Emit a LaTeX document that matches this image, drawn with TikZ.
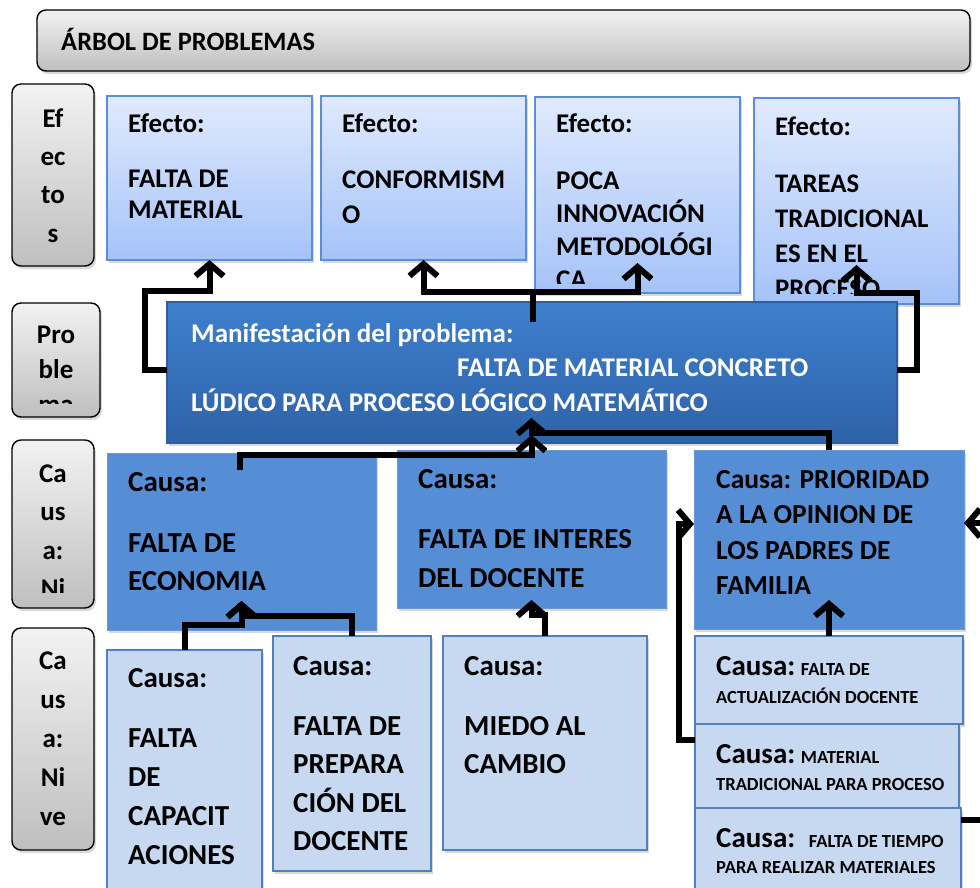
\documentclass[tikz,border=0pt]{standalone}
\usepackage{fontspec}
\setmainfont{Carlito}
\usetikzlibrary{arrows.meta,shadows}
\definecolor{grisclaro}{HTML}{F2F2F2}
\definecolor{grisoscuro}{HTML}{BFBFBF}
\definecolor{efarriba}{HTML}{E0EAFD}
\definecolor{efabajo}{HTML}{A5C3F9}
\definecolor{efborde}{HTML}{5A8ED6}
\definecolor{probarriba}{HTML}{3E7FCD}
\definecolor{probabajo}{HTML}{2E63A8}
\definecolor{probborde}{HTML}{2F5E9E}
\definecolor{causa}{HTML}{558ED5}
\definecolor{subcausa}{HTML}{C6D9F1}
\definecolor{causaborde}{HTML}{4F81BD}
\newcommand{\letra}[2]{\fontsize{#1}{#2}\selectfont\bfseries}

\begin{document}
\begin{tikzpicture}[x=1pt,y=-1pt,
    caja/.style={anchor=north west,inner sep=0pt,outer sep=0pt},
    sombra/.style={drop shadow={shadow xshift=2pt,shadow yshift=-3pt,opacity=0.3}},
    rotulo/.style={caja,sombra,draw=black,line width=1.4pt,rounded corners=9pt,top color=grisclaro,bottom color=grisoscuro},
    efecto/.style={caja,sombra,draw=efborde,line width=1.2pt,top color=efarriba,bottom color=efabajo},
    problema/.style={caja,sombra,draw=probborde,line width=2pt,top color=probarriba,bottom color=probabajo},
    causa/.style={caja,sombra,draw=causa!90!white,line width=1pt,fill=causa},
    subcausa/.style={caja,sombra,draw=causaborde,line width=1.2pt,fill=subcausa},
    txt/.style={anchor=base west,inner sep=0pt,align=left},
    txtc/.style={anchor=base,inner sep=0pt,align=center},
    flecha/.style={line width=6pt,-{Straight Barb[length=12pt,width=28pt]}}]
    \clip (0,0) rectangle (980,887);

    % cajas
    \node[rotulo,minimum width=933,minimum height=61] (titulo) at (37,10) {};
    \node[rotulo,minimum width=82,minimum height=182] (lab1) at (12,84) {};
    \node[rotulo,minimum width=88,minimum height=114] (lab2) at (12,303) {};
    \node[rotulo,minimum width=82,minimum height=168] (lab3) at (12,440) {};
    \node[rotulo,minimum width=82,minimum height=222] (lab4) at (12,628) {};

    \node[efecto,minimum width=205,minimum height=164] (ef1) at (107,96) {};
    \node[efecto,minimum width=205,minimum height=164] (ef2) at (321,96) {};
    \node[efecto,minimum width=205,minimum height=196] (ef3) at (535,97) {};
    \node[efecto,minimum width=205,minimum height=206] (ef4) at (754,98) {};

    \node[problema,minimum width=730,minimum height=141] (prob) at (167,302) {};

    \node[causa,minimum width=269,minimum height=177] (c1) at (107,453) {};
    \node[causa,minimum width=269,minimum height=158] (c2) at (397,450) {};
    \node[causa,minimum width=270,minimum height=179] (c3) at (694,450) {};

    \node[subcausa,minimum width=155,minimum height=260] (d1) at (107,650) {};
    \node[subcausa,minimum width=158,minimum height=235] (d2) at (273,636) {};
    \node[subcausa,minimum width=204,minimum height=214] (d3) at (443,636) {};
    \node[subcausa,minimum width=268,minimum height=88] (f1) at (695,636) {};
    \node[subcausa,minimum width=264,minimum height=84] (f2) at (695,724) {};
    \node[subcausa,minimum width=266,minimum height=100] (f3) at (695,808) {};

    % textos (coordenada = linea base de la ultima linea)
    \node[txt,font=\letra{26.5}{30}] (ttitulo) at (61,50) {ÁRBOL DE PROBLEMAS};
    \node[txtc,font=\letra{27}{38.3}] (tl1) at (lab1.north |- 0,242) {Ef\\ec\\to\\s};
    \begin{scope}
        \clip (lab2.north west) rectangle ([yshift=14pt]lab2.south east);
        \node[txtc,font=\letra{27}{35}] (tl2) at (lab2.north |- 0,413) {Pro\\ble\\ma};
    \end{scope}
    \begin{scope}
        \clip (lab3.north west) rectangle ([yshift=16pt]lab3.south east);
        \node[txtc,font=\letra{27}{38.5}] (tl3) at (lab3.north |- 0,597.5) {Ca\\us\\a:\\Ni};
    \end{scope}
    \node[txtc,font=\letra{27}{38.8}] (tl4) at (lab4.north |- 0,825) {Ca\\us\\a:\\Ni\\ve};

    \node[txt,font=\letra{27}{31.6}] (te1) at (128,218.6) {Efecto:\\[23.4pt]FALTA DE\\MATERIAL};
    \node[txt,font=\letra{27}{35}] (te2) at (342,223) {Efecto:\\[21pt]CONFORMISM\\O};
    \begin{scope}
        \clip (ef3.north west) rectangle ([yshift=10pt]ef3.south east);
        \node[txt,font=\letra{27}{32.7}] (te3) at (556,288) {Efecto:\\[24.3pt]POCA\\INNOVACIÓN\\METODOLÓGI\\CA};
    \end{scope}
    \begin{scope}
        \clip (ef4.north west) rectangle ([yshift=11pt]ef4.south east);
        \node[txt,font=\letra{26.8}{35}] (te4) at (775,297) {Efecto:\\[22pt]TAREAS\\TRADICIONAL\\ES EN EL\\PROCESO};
    \end{scope}

    \node[txt,font=\letra{27}{34.5},text=white] (tp) at (191,411) {Manifestación del problema:\\\hspace*{266pt}FALTA DE MATERIAL CONCRETO\\LÚDICO PARA PROCESO LÓGICO MATEMÁTICO};

    \node[txt,font=\letra{29}{38}] (tc1) at (128,590) {Causa:\\[23pt]FALTA DE\\ECONOMIA};
    \node[txt,font=\letra{29}{39}] (tc2) at (418,587) {Causa:\\[21pt]FALTA DE INTERES\\DEL DOCENTE};
    \node[txt,font=\letra{27.5}{35.5}] (tc3) at (716,594.5) {Causa: PRIORIDAD\\A LA OPINION DE\\LOS PADRES DE\\FAMILIA};

    \node[txt,font=\letra{29}{38.7}] (td1) at (128,864) {Causa:\\[21.3pt]FALTA\\DE\\CAPACIT\\ACIONES};
    \node[txt,font=\letra{29}{38.5}] (td2) at (293,850.5) {Causa:\\[21.5pt]FALTA DE\\PREPARA\\CIÓN DEL\\DOCENTE};
    \node[txt,font=\letra{29}{38.5}] (td3) at (464,773.5) {Causa:\\[21.5pt]MIEDO AL\\CAMBIO};
    \node[txt,font=\letra{18.5}{28}] (tf1) at (716,703) {{\fontsize{29}{28}\selectfont Causa:} FALTA DE\\ACTUALIZACIÓN DOCENTE};
    \node[txt,font=\letra{18.5}{27}] (tf2) at (716,790) {{\fontsize{29}{27}\selectfont Causa:} MATERIAL\\TRADICIONAL PARA PROCESO};
    \node[txt,font=\letra{18.5}{26}] (tf3) at (716,873) {{\fontsize{29}{26}\selectfont Causa:}\hspace{8pt} FALTA DE TIEMPO\\PARA REALIZAR MATERIALES};

    % flechas
    \draw[flecha] (prob.west |- 0,370) -| (145,291) -| (ef1.south);
    \draw[flecha] (prob.north -| 533,0) ++(0,20) |- (ef2.south |- 0,292) -- (ef2.south);
    \draw[flecha] (prob.north -| 533,0) ++(0,20) |- (ef3.south |- 0,292) -- ++(0,-29);
    \draw[flecha] (prob.east |- 0,370) -| (917,293) -- (ef4.south |- 0,293) -- ++(0,-28);

    \draw[flecha] (c1.north -| 240,0) ++(0,17) |- (c2.north |- 0,455) -- ++(0,-20);
    \draw[flecha] (c3.north) |- (c2.north |- 0,433) -- ++(0,-15);
    \draw[flecha] (d1.north) |- (c1.south |- 0,625) -- ++(0,-24);
    \draw[flecha] (d2.north) |- (c1.south |- 0,616) -- ++(0,-15);
    \draw[flecha] (d3.north) |- (c2.south |- 0,615) -- ++(0,-15);
    \draw[flecha] (f1.north) -- ++(0,-36);
    \draw[flecha] (f2.west |- 0,740) -| (679,524) -- (c3.west |- 0,524);
    \draw[flecha] (f3.east |- 0,820) -| (1000,523) -- (c3.east |- 0,523);
\end{tikzpicture}
\end{document}
